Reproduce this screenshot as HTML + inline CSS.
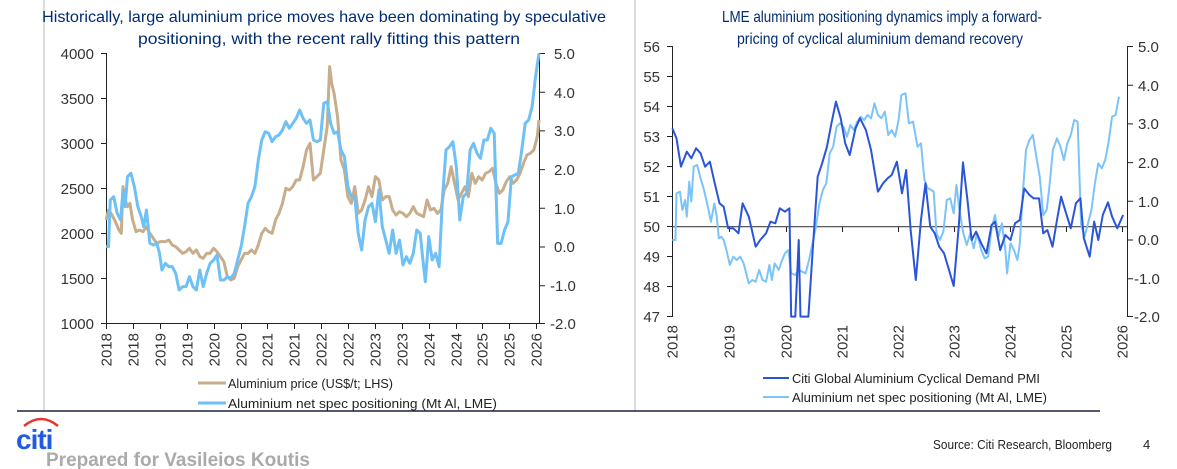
<!DOCTYPE html>
<html><head><meta charset="utf-8"><style>
html,body{margin:0;padding:0;background:#fff;width:1177px;height:469px;overflow:hidden}
svg{display:block}
text{font-family:"Liberation Sans",sans-serif}
.t{fill:#002d72;font-size:16px}
.k{fill:#333;font-size:14px}
.g{fill:#222;font-size:13px}
</style></head><body>
<svg width="1177" height="469" viewBox="0 0 1177 469">
<line x1="44" y1="0" x2="44" y2="411" stroke="#bbb" stroke-width="1"/>
<line x1="635" y1="0" x2="635" y2="411" stroke="#bbb" stroke-width="1"/>
<line x1="17" y1="411" x2="1100" y2="411" stroke="#1a2240" stroke-width="1.5"/>
<text class="t" x="42" y="22" textLength="564" lengthAdjust="spacingAndGlyphs">Historically, large aluminium price moves have been dominating by speculative</text>
<text class="t" x="138" y="44" textLength="382" lengthAdjust="spacingAndGlyphs">positioning, with the recent rally fitting this pattern</text>
<text class="t" x="722" y="22" textLength="320" lengthAdjust="spacingAndGlyphs">LME aluminium positioning dynamics imply a forward-</text>
<text class="t" x="737" y="44" textLength="286" lengthAdjust="spacingAndGlyphs">pricing of cyclical aluminium demand recovery</text>

<!-- LEFT CHART -->
<g stroke="#222" stroke-width="1" fill="none">
<line x1="106.5" y1="53" x2="106.5" y2="324"/>
<line x1="539.5" y1="53" x2="539.5" y2="324"/>
<line x1="101" y1="323.5" x2="540" y2="323.5"/>
<path d="M101 53.5h5M101 98.5h5M101 143.5h5M101 188.5h5M101 233.5h5M101 278.5h5"/>
<path d="M540 53.5h5M540 92.2h5M540 130.9h5M540 169.6h5M540 208.3h5M540 247h5M540 285.7h5M540 323.5h5"/>
<path d="M106.5 324v5M133.5 324v5M160.5 324v5M187.5 324v5M214.5 324v5M241.5 324v5M267.5 324v5M294.5 324v5M321.5 324v5M348.5 324v5M375.5 324v5M402.5 324v5M429.5 324v5M456.5 324v5M482.5 324v5M509.5 324v5M536.5 324v5"/>
</g>
<g class="k" text-anchor="end" style="font-size:15px">
<text x="94" y="59">4000</text><text x="94" y="104">3500</text><text x="94" y="149">3000</text><text x="94" y="194">2500</text><text x="94" y="239">2000</text><text x="94" y="284">1500</text><text x="94" y="329">1000</text>
</g>
<g class="k" style="font-size:15px">
<text x="554" y="59">5.0</text><text x="554" y="98">4.0</text><text x="554" y="136">3.0</text><text x="554" y="175">2.0</text><text x="554" y="214">1.0</text><text x="554" y="252">0.0</text><text x="550" y="291">-1.0</text><text x="550" y="329">-2.0</text>
</g>
<g class="k" text-anchor="end" style="font-size:15px">
<text transform="translate(111.5,333) rotate(-90)">2018</text>
<text transform="translate(138.5,333) rotate(-90)">2018</text>
<text transform="translate(165.5,333) rotate(-90)">2019</text>
<text transform="translate(192.5,333) rotate(-90)">2019</text>
<text transform="translate(219.5,333) rotate(-90)">2020</text>
<text transform="translate(246.5,333) rotate(-90)">2020</text>
<text transform="translate(272.5,333) rotate(-90)">2021</text>
<text transform="translate(299.5,333) rotate(-90)">2021</text>
<text transform="translate(326.5,333) rotate(-90)">2022</text>
<text transform="translate(353.5,333) rotate(-90)">2022</text>
<text transform="translate(380.5,333) rotate(-90)">2023</text>
<text transform="translate(407.5,333) rotate(-90)">2023</text>
<text transform="translate(434.5,333) rotate(-90)">2024</text>
<text transform="translate(461.5,333) rotate(-90)">2024</text>
<text transform="translate(487.5,333) rotate(-90)">2025</text>
<text transform="translate(514.5,333) rotate(-90)">2025</text>
<text transform="translate(541.5,333) rotate(-90)">2026</text>
</g>
<g transform="translate(50,40) scale(0.34435,0.33333)" fill="none" stroke-width="3" stroke-linejoin="round">
<polyline vector-effect="non-scaling-stroke" stroke="#c8ad8c" points="163,540 170,510 180,525 190,545 200,570 207,580 212,440 218,480 225,500 232,490 240,540 250,575 260,570 270,575 280,560 290,580 300,595 310,610 320,605 335,605 345,600 355,615 365,620 375,630 385,640 395,635 405,625 415,640 425,630 435,650 445,655 455,640 465,640 475,625 485,635 495,650 505,665 515,710 525,720 535,715 545,680 555,660 565,640 575,640 585,630 595,640 605,615 615,580 625,565 635,575 645,580 655,540 665,520 675,490 685,445 695,450 705,440 715,420 725,420 735,380 745,330 755,310 765,420 775,410 785,400 795,330 805,260 812,80 818,130 825,160 835,230 845,360 855,390 865,470 875,490 885,440 895,520 905,510 915,480 925,440 935,470 945,410 955,420 965,480 975,470 985,470 995,510 1005,525 1015,515 1025,520 1035,530 1045,520 1055,500 1065,520 1075,525 1085,530 1095,480 1105,510 1115,505 1125,520 1135,510 1145,450 1155,430 1165,380 1175,430 1185,480 1195,460 1205,440 1215,470 1225,400 1235,430 1245,410 1255,420 1265,400 1275,395 1285,385 1295,430 1305,460 1315,450 1325,425 1335,410 1345,430 1355,420 1365,400 1375,370 1385,345 1395,340 1405,330 1415,290 1420,240"/>
<polyline vector-effect="non-scaling-stroke" stroke="#6ec0f5" points="163,620 170,620 175,480 185,470 195,520 205,540 212,450 218,500 225,410 235,400 245,440 255,500 265,530 272,560 280,510 285,560 290,610 300,615 310,610 318,640 325,690 335,670 345,680 355,680 365,700 375,750 385,740 395,740 405,710 415,740 425,750 435,690 445,740 455,700 465,670 475,660 485,645 495,720 505,720 515,710 525,715 535,700 545,660 555,620 565,560 575,490 585,470 595,440 605,360 615,300 625,275 635,280 645,305 655,290 665,285 675,270 685,245 695,265 705,250 715,235 725,210 735,235 745,250 755,240 765,300 775,305 785,300 795,190 805,185 815,250 825,280 835,275 845,330 855,350 865,440 875,470 885,470 895,580 905,630 915,540 925,500 935,490 945,545 955,450 965,560 975,600 985,640 995,570 1005,640 1015,600 1025,675 1035,650 1045,670 1055,640 1065,570 1075,580 1085,680 1090,725 1100,590 1110,660 1120,640 1130,680 1140,470 1145,400 1150,330 1160,320 1170,305 1180,380 1190,540 1200,470 1210,460 1220,330 1230,310 1240,340 1250,355 1260,300 1270,300 1280,265 1290,280 1300,610 1310,610 1320,570 1330,545 1340,410 1350,405 1360,400 1370,330 1380,250 1390,240 1400,200 1410,110 1420,40"/>
</g>
<line x1="198" y1="383" x2="226" y2="383" stroke="#c8ad8c" stroke-width="3"/>
<line x1="198" y1="403" x2="226" y2="403" stroke="#6ec0f5" stroke-width="3"/>
<text class="g" x="228" y="388" textLength="165" lengthAdjust="spacingAndGlyphs">Aluminium price (US$/t; LHS)</text>
<text class="g" x="228" y="408" textLength="269" lengthAdjust="spacingAndGlyphs">Aluminium net spec positioning (Mt Al, LME)</text>

<!-- RIGHT CHART -->
<g stroke="#222" stroke-width="1" fill="none">
<line x1="672.5" y1="46" x2="672.5" y2="317"/>
<line x1="1127.5" y1="46" x2="1127.5" y2="317"/>
<path d="M667 46.5h5M667 76.5h5M667 106.5h5M667 136.5h5M667 166.5h5M667 196.5h5M667 226.5h5M667 256.5h5M667 286.5h5M667 316.5h5"/>
<path d="M1128 46.5h5M1128 85.2h5M1128 123.9h5M1128 162.6h5M1128 201.3h5M1128 240h5M1128 278.7h5M1128 316.5h5"/>
<path d="M729.5 227v5M786.5 227v5M842.5 227v5M898.5 227v5M954.5 227v5M1010.5 227v5M1066.5 227v5M1122.5 227v5"/>
</g>
<line x1="672" y1="226.7" x2="1127" y2="226.7" stroke="#444" stroke-width="1.2"/>
<g class="k" text-anchor="end" style="font-size:15px">
<text x="660" y="52">56</text><text x="660" y="82">55</text><text x="660" y="112">54</text><text x="660" y="142">53</text><text x="660" y="172">52</text><text x="660" y="202">51</text><text x="660" y="232">50</text><text x="660" y="262">49</text><text x="660" y="292">48</text><text x="660" y="322">47</text>
</g>
<g class="k" style="font-size:15px">
<text x="1138" y="52">5.0</text><text x="1138" y="91">4.0</text><text x="1138" y="129">3.0</text><text x="1138" y="168">2.0</text><text x="1138" y="207">1.0</text><text x="1138" y="245">0.0</text><text x="1134" y="284">-1.0</text><text x="1134" y="322">-2.0</text>
</g>
<g class="k" text-anchor="end" style="font-size:15px">
<text transform="translate(677.5,325) rotate(-90)">2018</text>
<text transform="translate(734.5,325) rotate(-90)">2019</text>
<text transform="translate(791.5,325) rotate(-90)">2020</text>
<text transform="translate(847.5,325) rotate(-90)">2021</text>
<text transform="translate(903.5,325) rotate(-90)">2022</text>
<text transform="translate(959.5,325) rotate(-90)">2023</text>
<text transform="translate(1015.5,325) rotate(-90)">2024</text>
<text transform="translate(1071.5,325) rotate(-90)">2025</text>
<text transform="translate(1127.5,325) rotate(-90)">2026</text>
</g>
<g transform="translate(630,40) scale(0.34435,0.33333)" fill="none" stroke-linejoin="round">
<polyline vector-effect="non-scaling-stroke" stroke-width="2" stroke="#7cc4f7" points="123,600 132,600 135,460 145,455 152,510 160,480 165,530 172,425 178,485 185,380 195,375 205,415 215,450 225,495 235,545 245,490 252,530 258,595 265,590 272,600 280,630 290,675 300,650 310,660 320,650 330,670 345,730 355,720 365,725 375,690 385,720 395,725 405,675 412,720 420,670 432,690 440,665 450,640 460,630 468,700 480,705 490,690 500,695 510,700 520,660 530,610 540,560 550,490 560,450 570,430 580,340 590,320 600,260 610,250 620,260 630,290 640,255 650,270 660,245 670,230 680,240 690,225 700,235 710,190 720,225 730,235 740,215 750,285 760,270 770,290 780,240 788,165 800,160 810,250 822,245 835,320 845,310 855,420 865,445 875,450 882,455 890,580 900,600 910,575 920,480 930,475 940,520 948,435 958,520 968,580 978,615 988,580 998,625 1008,580 1020,630 1030,655 1040,650 1050,565 1060,525 1070,590 1080,550 1090,630 1095,700 1105,610 1115,630 1125,660 1132,610 1140,470 1150,330 1160,300 1170,285 1180,350 1190,410 1200,525 1210,510 1218,440 1228,330 1240,295 1250,320 1260,360 1270,310 1280,285 1290,240 1300,245 1310,555 1320,590 1330,550 1340,510 1350,430 1360,370 1370,385 1380,360 1390,305 1400,230 1410,225 1420,170"/>
<polyline vector-effect="non-scaling-stroke" stroke-width="2" stroke="#2a55d8" points="123,265 135,295 148,380 165,335 178,355 192,325 205,340 218,380 232,365 245,425 260,490 272,500 285,565 300,565 315,580 327,490 345,530 365,620 378,600 395,580 408,545 422,550 435,505 450,515 463,505 468,830 480,830 490,600 495,830 505,830 518,830 530,640 545,410 558,370 572,320 585,250 598,185 612,235 625,310 638,345 655,265 668,235 685,270 700,330 720,455 735,430 748,415 760,405 775,365 790,460 802,390 815,570 830,720 845,540 858,430 872,560 885,580 898,620 912,640 925,685 940,738 955,555 967,367 980,480 992,600 1005,575 1020,610 1035,640 1050,555 1060,545 1075,630 1090,585 1105,600 1118,550 1132,540 1145,445 1160,465 1172,475 1188,475 1200,580 1212,570 1227,620 1240,540 1252,470 1265,515 1280,565 1295,490 1308,475 1318,595 1335,650 1348,545 1360,600 1373,525 1388,487 1400,530 1415,565 1432,525"/>
</g>
<line x1="763" y1="378" x2="789" y2="378" stroke="#2a55d8" stroke-width="2"/>
<line x1="763" y1="397" x2="789" y2="397" stroke="#7cc4f7" stroke-width="2"/>
<text class="g" x="792" y="383" textLength="248" lengthAdjust="spacingAndGlyphs">Citi Global Aluminium Cyclical Demand PMI</text>
<text class="g" x="792" y="402" textLength="255" lengthAdjust="spacingAndGlyphs">Aluminium net spec positioning (Mt Al, LME)</text>

<!-- FOOTER -->
<path d="M24 426 Q41 412 58 426" stroke="#e8352b" stroke-width="2.5" fill="none"/>
<text x="16" y="449" style="font-weight:bold;font-size:28px;fill:#1f5ce0;letter-spacing:-1px">citi</text>
<text x="46" y="466" style="font-weight:bold;font-size:19px;fill:#aaa">Prepared for Vasileios Koutis</text>
<text class="g" x="933" y="449" textLength="179" lengthAdjust="spacingAndGlyphs">Source: Citi Research, Bloomberg</text>
<text class="g" x="1143" y="449">4</text>
</svg>
</body></html>
